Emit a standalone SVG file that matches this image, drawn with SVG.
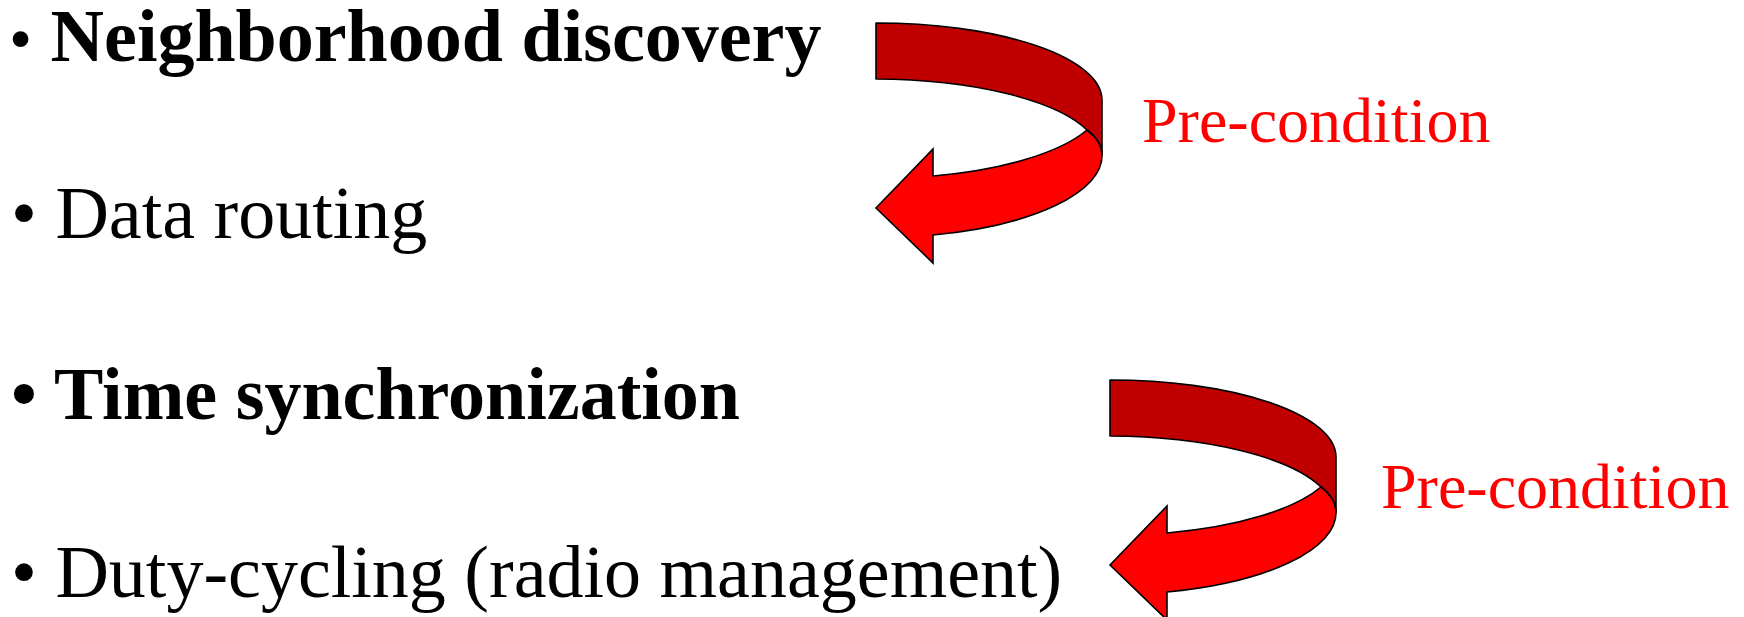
<svg xmlns="http://www.w3.org/2000/svg" width="1744" height="617" viewBox="0 0 1744 617">
<style>
.t{font-family:"Liberation Serif","Times New Roman",serif;font-size:74px;fill:#000}
.b{font-weight:bold}
.lbl{font-family:"Liberation Serif","Times New Roman",serif;font-size:64px;fill:#FF0000}
.back{fill:#C00000;stroke:#000;stroke-width:1.6;stroke-linejoin:round}
.front{fill:#FF0000;stroke:#000;stroke-width:1.6;stroke-linejoin:miter}
</style>
<defs>
<g id="curl">
<path class="back" d="M876,23 A226,77 0 0 1 1102,100 L1102,155 C1102,146 1096,137 1087,130 A226,76 0 0 0 876,79 Z"/>
<path class="front" d="M1102,155 A226,82 0 0 1 933,235 L933,263 L876,208 L933,149 L933,176 A226,78 0 0 0 1087,130 C1096,137 1102,146 1102,155 Z"/>
</g>
</defs>
<g id="item-neighborhood"><text class="t b" x="9" y="61"><tspan font-size="66" font-weight="normal">•</tspan> Neighborhood discovery</text></g>
<g id="item-routing"><text class="t" x="11" y="238">• Data routing</text></g>
<g id="item-timesync"><text class="t b" x="11" y="419">• Time synchronization</text></g>
<g id="item-dutycycling"><text class="t" x="11" y="597">• Duty-cycling (radio management)</text></g>
<g id="connectors">
<g id="arrow1"><use href="#curl"/></g>
<g id="arrow2"><use href="#curl" transform="translate(234,357)"/></g>
</g>
<g id="label1"><text class="lbl" x="1142" y="142">Pre-condition</text></g>
<g id="label2"><text class="lbl" x="1381" y="508">Pre-condition</text></g>
</svg>
